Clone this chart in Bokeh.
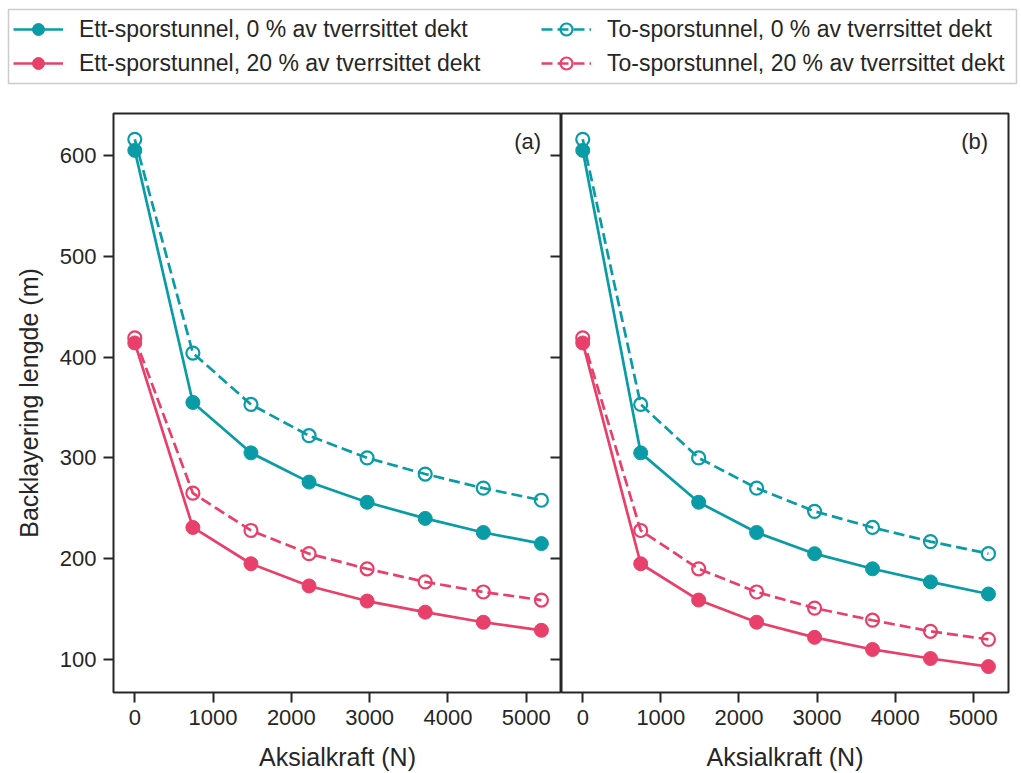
from bokeh.plotting import figure
from bokeh.models import Range1d, LinearAxis, FixedTicker, Legend, LegendItem, Label
from bokeh.layouts import column, row
from bokeh.embed import file_html
from bokeh.resources import INLINE

# ---------------- data ----------------
force = [0, 742, 1484, 2226, 2968, 3710, 4452, 5194]

a_ett_0 = [605, 355, 305, 276, 256, 240, 226, 215]
a_to_0 = [616, 404, 353, 322, 300, 284, 270, 258]
a_ett_20 = [414, 231, 195, 173, 158, 147, 137, 129]
a_to_20 = [419, 265, 228, 205, 190, 177, 167, 159]

b_ett_0 = [605, 305, 256, 226, 205, 190, 177, 165]
b_to_0 = [616, 353, 300, 270, 247, 231, 217, 205]
b_ett_20 = [414, 195, 159, 137, 122, 110, 101, 93]
b_to_20 = [419, 228, 190, 167, 151, 139, 128, 120]

x_ticks = [0, 1000, 2000, 3000, 4000, 5000]
y_ticks = [100, 200, 300, 400, 500, 600]

labels = [
    "Ett-sporstunnel, 0 % av tverrsittet dekt",
    "Ett-sporstunnel, 20 % av tverrsittet dekt",
    "To-sporstunnel, 0 % av tverrsittet dekt",
    "To-sporstunnel, 20 % av tverrsittet dekt",
]
panel_tags = ["(a)", "(b)"]
x_label = "Aksialkraft (N)"
y_label = "Backlayering lengde (m)"

# ---------------- style ----------------
FONT = "Liberation Sans"
TXT = "#262626"
TEAL = "#0a9ca6"
PINK = "#e8406a"
LW = 2.7
MS = 14
DASH = "11 5"

X_RANGE = (-272, 5451)
Y_RANGE = (67.3, 641.6)


def style_axis(ax, tick_out=10, tick_in=0):
    ax.axis_line_color = None
    ax.major_tick_line_color = TXT
    ax.major_tick_line_width = 2
    ax.major_tick_out = tick_out
    ax.major_tick_in = tick_in
    ax.minor_tick_line_color = None
    ax.major_label_text_font = FONT
    ax.major_label_text_font_size = "22px"
    ax.major_label_text_color = TXT
    ax.axis_label_text_font = FONT
    ax.axis_label_text_font_size = "25px"
    ax.axis_label_text_font_style = "normal"
    ax.axis_label_text_color = TXT


def draw_series(p, ett0, ett20, to0, to20):
    rs = []
    for ys, col in ((ett0, TEAL), (ett20, PINK)):
        l = p.line(force, ys, line_color=col, line_width=LW)
        s = p.scatter(force, ys, marker="circle", size=MS, fill_color=col, line_color=col, line_width=1)
        rs.append([l, s])
    for ys, col in ((to0, TEAL), (to20, PINK)):
        l = p.line(force, ys, line_color=col, line_width=LW, line_dash=DASH)
        s = p.scatter(force, ys, marker="circle", size=MS - 1, fill_color=None, line_color=col, line_width=2.2)
        rs.append([l, s])
    return rs


def make_panel(width, left, right, data, tag, first):
    p = figure(width=width, height=678,
               x_range=Range1d(*X_RANGE), y_range=Range1d(*Y_RANGE),
               output_backend="svg", toolbar_location=None,
               min_border_left=left, min_border_right=right,
               min_border_top=18, min_border_bottom=80,
               x_axis_location=None, y_axis_location=None)
    p.grid.visible = False
    p.outline_line_color = TXT
    p.outline_line_width = 2
    p.background_fill_color = "white"
    p.border_fill_color = "white"

    xa = LinearAxis(ticker=FixedTicker(ticks=x_ticks), axis_label=x_label)
    style_axis(xa)
    xa.major_label_standoff = 7
    xa.axis_label_standoff = 15
    p.add_layout(xa, "below")

    if first:
        ya = LinearAxis(ticker=FixedTicker(ticks=y_ticks), axis_label=y_label)
        style_axis(ya)
        ya.major_label_standoff = 7
        ya.axis_label_standoff = 14
        p.add_layout(ya, "left")
        # ticks of panel (b)'s left spine, pointing into panel (a)
        yr = LinearAxis(ticker=FixedTicker(ticks=y_ticks))
        style_axis(yr, tick_out=0, tick_in=11)
        yr.major_label_overrides = {t: "" for t in y_ticks}
        yr.major_label_standoff = 0
        p.add_layout(yr, "right")

    draw_series(p, *data)

    p.add_layout(Label(x=5190, y=614, text=tag, text_align="right", text_baseline="middle",
                       text_font=FONT, text_font_size="22px", text_color=TXT))
    return p


pa = make_panel(561, 113, 0, (a_ett_0, a_ett_20, a_to_0, a_to_20), panel_tags[0], True)
pb = make_panel(460, 0, 13, (b_ett_0, b_ett_20, b_to_0, b_to_20), panel_tags[1], False)

# ---------------- legend strip ----------------
# the legend renderers carry panel (a)'s data but sit outside this strip's view
lf = figure(width=1021, height=95, x_range=Range1d(-20, -10), y_range=Range1d(-20, -10),
            output_backend="svg", toolbar_location=None,
            min_border_left=8, min_border_right=5, min_border_top=9, min_border_bottom=12,
            x_axis_location=None, y_axis_location=None)
lf.grid.visible = False
lf.outline_line_color = "#cccccc"
lf.outline_line_width = 1.5
rs = draw_series(lf, a_ett_0, a_ett_20, a_to_0, a_to_20)


def make_legend(items, x):
    return Legend(items=items, location=(x, 5), orientation="vertical",
                  border_line_color=None, background_fill_alpha=0,
                  label_text_font=FONT, label_text_font_size="23px", label_text_color=TXT,
                  glyph_width=50, glyph_height=30, label_height=30, label_standoff=16,
                  spacing=4, padding=4, margin=0)


lg1 = make_legend([LegendItem(label=labels[0], renderers=rs[0]),
                   LegendItem(label=labels[1], renderers=rs[1])], 5)
lg2 = make_legend([LegendItem(label=labels[2], renderers=rs[2]),
                   LegendItem(label=labels[3], renderers=rs[3])], 533)
lf.add_layout(lg1, "center")
lf.add_layout(lg2, "center")

layout = column(lf, row(pa, pb))
open("out.html", "w").write(file_html(layout, INLINE))
